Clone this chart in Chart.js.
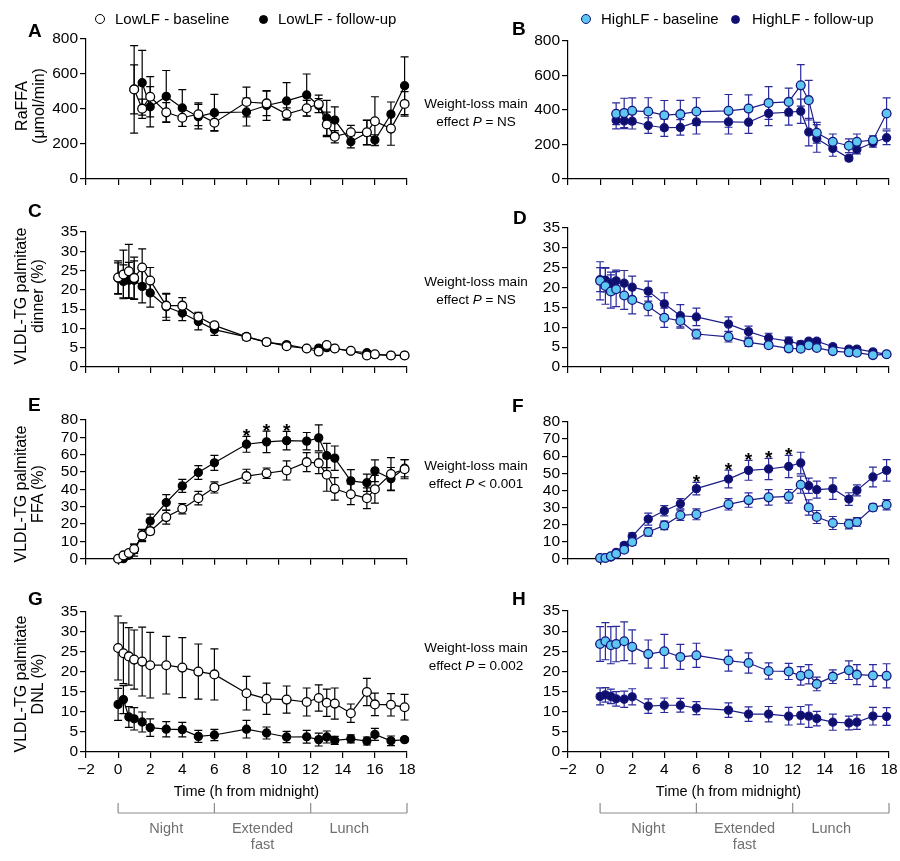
<!DOCTYPE html>
<html>
<head>
<meta charset="utf-8">
<script src="https://cdn.jsdelivr.net/npm/chart.js@4.4.1/dist/chart.umd.min.js"></script>
<style>
    body { margin: 0; background: #fff; width: 900px; height: 861px; position: relative; overflow: hidden;
           font-family: "Liberation Sans", Arial, sans-serif; color: #000; }
    canvas { position: absolute; }
    .txt { position: absolute; white-space: nowrap; }
    .letter { font-weight: bold; font-size: 19px; }
    .ytitle { font-size: 16px; line-height: 17px; text-align: center; transform: translate(-50%, -50%) rotate(-90deg); }
    .effect { font-size: 13.5px; line-height: 18px; text-align: center; transform: translateX(-50%); }
    .legend { font-size: 15px; }
    .dot { position: absolute; border-radius: 50%; box-sizing: border-box; }
</style>
</head>
<body>
<script>
// time points (h from midnight)
const timesAB = [1, 1.5, 2, 3, 4, 5, 6, 8, 9.25, 10.5, 11.75, 12.5, 13, 13.5, 14.5, 15.5, 16, 17, 17.85];
const timesCH = [0, 0.33, 0.67, 1, 1.5, 2, 3, 4, 5, 6, 8, 9.25, 10.5, 11.75, 12.5, 13, 13.5, 14.5, 15.5, 16, 17, 17.85];

const xTickValues = [-2, 0, 2, 4, 6, 8, 10, 12, 14, 16, 18];
const raTicks = [0, 200, 400, 600, 800];
const pct35Ticks = [0, 5, 10, 15, 20, 25, 30, 35];
const pct80Ticks = [0, 10, 20, 30, 40, 50, 60, 70, 80];

const lowLabels = ['LowLF - baseline', 'LowLF - follow-up'];
const highLabels = ['HighLF - baseline', 'HighLF - follow-up'];
const effectP = ['= NS', '= NS', '< 0.001', '= 0.002'];

// A: RaFFA, LowLF
const lowRaBase = [512, 402, 470, 381, 350, 370, 322, 440, 432, 371, 404, 429, 312, 242, 267, 267, 330, 288, 429];
const lowRaBaseErr = [250, 55, 115, 55, 50, 65, 45, 85, 70, 35, 45, 50, 70, 35, 40, 70, 140, 95, 70];
const lowRaFollow = [512, 550, 413, 472, 406, 356, 379, 383, 420, 446, 480, 420, 349, 337, 213, 265, 223, 370, 533];
const lowRaFollowErr = [140, 185, 115, 148, 105, 70, 105, 80, 85, 105, 120, 40, 100, 75, 35, 70, 30, 70, 165];

// B: RaFFA, HighLF
const highRaBase = [378, 383, 395, 391, 370, 376, 391, 395, 408, 441, 447, 543, 457, 268, 216, 193, 216, 225, 380];
const highRaBaseErr = [63, 85, 75, 80, 85, 80, 80, 95, 80, 95, 80, 120, 115, 60, 45, 40, 45, 25, 90];
const highRaFollow = [341, 337, 335, 310, 297, 299, 331, 331, 329, 380, 387, 393, 272, 235, 177, 121, 171, 210, 239];
const highRaFollowErr = [50, 45, 45, 45, 50, 45, 70, 70, 65, 70, 75, 70, 80, 80, 45, 15, 25, 25, 40];

// C: dinner palmitate, LowLF
const lowDinBase = [23.2, 24.0, 24.8, 23.1, 25.8, 22.4, 15.9, 15.9, 13.0, 10.8, 7.8, 6.5, 5.4, 4.8, 4.0, 5.7, 4.8, 4.2, 3.0, 3.3, 3.0, 3.0];
const lowDinBaseErr = [4.3, 6.3, 7.0, 5.4, 4.8, 3.4, 3.0, 2.1, 1.2, 0.8, 0.8, 0.7, 0.6, 0.5, 0.5, 0.6, 0.5, 0.5, 0.4, 0.4, 0.4, 0.4];
const lowDinFollow = [23.0, 22.2, 22.5, 22.5, 20.9, 19.2, 15.6, 14.0, 11.8, 9.7, 7.8, 6.4, 5.8, 4.8, 4.9, 5.0, 4.8, 4.1, 3.7, 3.2, 3.0, 3.0];
const lowDinFollowErr = [4.0, 4.3, 4.6, 5.0, 4.3, 3.7, 3.5, 2.0, 2.2, 1.5, 0.8, 0.7, 0.6, 0.5, 0.5, 0.5, 0.5, 0.5, 0.4, 0.4, 0.4, 0.4];

// D: dinner palmitate, HighLF
const highDinBase = [21.7, 20.4, 19.0, 19.6, 18.0, 16.9, 15.3, 12.4, 11.6, 8.3, 7.6, 6.2, 5.5, 4.7, 4.6, 5.5, 4.8, 4.0, 3.7, 3.6, 3.0, 3.2];
const highDinBaseErr = [4.8, 4.6, 4.2, 4.4, 3.5, 3.5, 2.4, 2.4, 1.8, 1.2, 1.3, 1.0, 0.7, 0.7, 0.7, 0.7, 0.6, 0.6, 0.5, 0.5, 0.5, 0.5];
const highDinFollow = [22.0, 21.9, 21.1, 21.7, 21.1, 20.1, 19.1, 15.9, 12.9, 12.6, 10.8, 8.9, 7.3, 6.5, 5.7, 6.5, 6.5, 5.1, 4.5, 4.5, 3.8, 3.2];
const highDinFollowErr = [3.0, 3.0, 2.8, 2.7, 3.2, 2.8, 2.5, 2.8, 2.8, 2.2, 1.8, 1.4, 1.2, 1.0, 0.8, 0.6, 0.6, 0.6, 0.5, 0.5, 0.5, 0.5];

// E: FFA palmitate, LowLF
const lowFfaBase = [0, 1.9, 3.3, 5.6, 13.4, 15.9, 24.0, 28.8, 34.9, 41.1, 47.6, 49.3, 50.9, 55.7, 55.1, 48.4, 40.3, 37.2, 34.9, 40.1, 48.8, 51.6];
const lowFfaBaseErr = [0.5, 0.8, 1.2, 2.5, 3.5, 2.0, 4.0, 3.0, 3.9, 3.2, 4.0, 3.0, 5.5, 5.5, 6.0, 9.5, 6.5, 6.0, 6.0, 8.0, 9.5, 5.5];
const lowFfaFollow = [0, 0, 2.0, 5.0, 13.6, 21.7, 32.4, 42.0, 49.7, 55.3, 66.0, 67.4, 68.1, 67.8, 69.7, 59.5, 58.0, 44.9, 43.8, 50.7, 46.1, 52.2];
const lowFfaFollowErr = [0.5, 0.5, 1.0, 3.5, 3.0, 4.0, 4.5, 3.8, 4.0, 4.3, 4.6, 6.2, 5.3, 5.0, 7.5, 7.0, 7.0, 6.5, 5.0, 6.3, 6.5, 5.0];
const lowFfaStars = [8, 9.25, 10.5];

// F: FFA palmitate, HighLF
const highFfaBase = [0.4, 0.4, 1.4, 2.9, 5.3, 9.8, 15.6, 19.5, 25.4, 26.0, 31.8, 34.3, 35.9, 36.5, 43.3, 30.0, 24.4, 20.9, 20.3, 21.5, 30.0, 31.6];
const highFfaBaseErr = [0.3, 0.3, 0.5, 1.0, 1.5, 2.0, 2.4, 2.5, 3.0, 3.2, 3.3, 4.2, 4.5, 4.0, 5.0, 4.5, 3.8, 3.8, 2.8, 2.5, 2.0, 3.0];
const highFfaFollow = [0.3, 0.5, 1.0, 3.7, 7.8, 13.1, 23.2, 28.1, 32.2, 41.0, 46.6, 51.7, 52.5, 54.0, 56.0, 42.7, 40.4, 41.0, 34.9, 40.0, 47.8, 51.7];
const highFfaFollowErr = [0.3, 0.3, 0.5, 1.0, 1.5, 2.0, 3.5, 3.0, 3.0, 3.7, 5.2, 5.8, 6.2, 6.5, 6.3, 4.5, 5.0, 6.3, 3.7, 3.2, 5.8, 6.3];
const highFfaStars = [6, 8, 9.25, 10.5, 11.75];

// G: DNL palmitate, LowLF
const lowDnlBase = [26.0, 24.7, 23.9, 23.1, 22.6, 21.7, 21.7, 21.1, 20.1, 19.4, 14.7, 13.3, 13.1, 12.5, 13.5, 12.3, 12.1, 9.7, 15.0, 11.9, 11.8, 11.2];
const lowDnlBaseErr = [8.0, 7.6, 7.2, 7.4, 8.6, 8.2, 7.2, 7.5, 6.9, 6.4, 4.2, 3.9, 3.4, 3.5, 3.3, 3.4, 3.9, 2.3, 3.4, 2.8, 2.8, 3.2];
const lowDnlFollow = [11.9, 13.1, 8.75, 8.3, 7.5, 6.1, 5.7, 5.6, 3.9, 4.25, 5.7, 4.75, 3.75, 3.8, 3.1, 3.75, 2.9, 3.3, 2.75, 4.4, 2.8, 3.1];
const lowDnlFollowErr = [4.0, 3.5, 2.6, 2.8, 2.5, 2.2, 1.9, 1.8, 1.5, 1.4, 2.2, 1.5, 1.4, 1.6, 1.6, 1.5, 1.0, 1.0, 1.0, 1.5, 1.2, 0.5];

// H: DNL palmitate, HighLF
const highDnlBase = [26.8, 27.5, 26.5, 26.8, 27.5, 26.1, 24.3, 25.0, 23.6, 24.0, 22.7, 22.1, 20.1, 20.0, 18.9, 19.3, 16.9, 18.7, 20.3, 19.2, 19.0, 18.9];
const highDnlBaseErr = [4.3, 4.6, 4.6, 4.4, 4.8, 4.2, 3.5, 4.2, 3.1, 3.0, 2.6, 2.5, 2.0, 2.0, 2.3, 2.4, 1.7, 1.7, 2.3, 2.5, 2.7, 3.0];
const highDnlFollow = [13.8, 14.2, 13.8, 13.2, 13.1, 13.7, 11.4, 11.6, 11.6, 10.9, 10.4, 9.4, 9.4, 8.9, 9.1, 8.9, 8.3, 7.4, 7.2, 7.4, 8.9, 8.8];
const highDnlFollowErr = [2.1, 1.8, 1.8, 1.8, 2.0, 2.0, 1.8, 1.8, 1.7, 1.6, 1.8, 1.8, 1.9, 2.2, 2.2, 2.8, 1.8, 2.0, 1.7, 1.8, 2.2, 2.2];

// bottom phase bracket
const phaseBounds = [0, 6, 12, 18];
const phaseNames = [['Night'], ['Extended', 'fast'], ['Lunch']];
const phaseCenters = [3, 9, 14.4];

const FONT = '"Liberation Sans", Arial, sans-serif';
Chart.defaults.font.family = FONT;
Chart.defaults.font.size = 15;
Chart.defaults.color = '#000';

const STYLES = {
    low: { line: '#000', err: '#000', baseFill: '#fff', followFill: '#000', edge: '#000' },
    high: { line: '#1c1c8a', err: '#2a2a9c', baseFill: '#5ec7f0', followFill: '#0e0e6c', edge: '#16167e' }
};

const errorBars = {
    id: 'errorBars',
    beforeDatasetsDraw(chart) {
        const ctx = chart.ctx;
        const xs = chart.scales.x, ys = chart.scales.y;
        chart.data.datasets.forEach(ds => {
            if (!ds.errors) return;
            ctx.save();
            ctx.strokeStyle = ds.errorColor;
            ctx.lineWidth = 1.2;
            ds.data.forEach((p, i) => {
                const e = ds.errors[i];
                const px = xs.getPixelForValue(p.x);
                const top = ys.getPixelForValue(p.y + e);
                const bot = ys.getPixelForValue(Math.max(p.y - e, 0));
                ctx.beginPath();
                ctx.moveTo(px, top); ctx.lineTo(px, bot);
                ctx.moveTo(px - 4, top); ctx.lineTo(px + 4, top);
                ctx.moveTo(px - 4, bot); ctx.lineTo(px + 4, bot);
                ctx.stroke();
            });
            ctx.restore();
        });
    }
};

const starMarks = {
    id: 'starMarks',
    afterDatasetsDraw(chart) {
        const ctx = chart.ctx;
        const xs = chart.scales.x, ys = chart.scales.y;
        chart.data.datasets.forEach(ds => {
            if (!ds.stars) return;
            ctx.save();
            ctx.fillStyle = '#000';
            ctx.font = 'bold 19px ' + FONT;
            ctx.textAlign = 'center';
            ctx.textBaseline = 'alphabetic';
            ds.stars.forEach(t => {
                const i = ds.data.findIndex(p => p.x === t);
                if (i < 0) return;
                const p = ds.data[i];
                ctx.fillText('*', xs.getPixelForValue(t), ys.getPixelForValue(p.y + ds.errors[i]) + 6);
            });
            ctx.restore();
        });
    }
};

const phaseBracket = {
    id: 'phaseBracket',
    afterDraw(chart) {
        if (!chart.options.showPhases) return;
        const ctx = chart.ctx;
        const xs = chart.scales.x;
        const b = chart.chartArea.bottom;
        const area = chart.chartArea;
        ctx.save();
        ctx.fillStyle = '#000';
        ctx.font = '14.5px ' + FONT;
        ctx.textAlign = 'center';
        ctx.textBaseline = 'middle';
        ctx.fillText('Time (h from midnight)', (area.left + area.right) / 2, b + 40);

        ctx.strokeStyle = '#8c8c8c';
        ctx.lineWidth = 1.2;
        const x0 = xs.getPixelForValue(phaseBounds[0]);
        const x1 = xs.getPixelForValue(phaseBounds[phaseBounds.length - 1]);
        ctx.beginPath();
        ctx.moveTo(x0, b + 61); ctx.lineTo(x1, b + 61);
        phaseBounds.forEach(v => {
            const px = xs.getPixelForValue(v);
            ctx.moveTo(px, b + 51); ctx.lineTo(px, b + 61);
        });
        ctx.stroke();

        ctx.fillStyle = '#707070';
        ctx.font = '14.5px ' + FONT;
        phaseNames.forEach((lines, k) => {
            const px = xs.getPixelForValue(phaseCenters[k]);
            lines.forEach((s, j) => ctx.fillText(s, px, b + 77 + j * 16));
        });
        ctx.restore();
    }
};

function fmtTick(v) {
    return v < 0 ? '\u2212' + Math.abs(v) : String(v);
}

function toPoints(times, vals) {
    return times.map((t, i) => ({ x: t, y: vals[i] }));
}

function makePanel(cfg) {
    const st = STYLES[cfg.style];
    const canvas = document.createElement('canvas');
    canvas.width = cfg.w;
    canvas.height = cfg.h;
    canvas.style.left = cfg.left + 'px';
    canvas.style.top = cfg.top + 'px';
    document.body.appendChild(canvas);

    const common = {
        showLine: true,
        borderColor: st.line,
        borderWidth: 1.2,
        pointBorderColor: st.edge,
        pointBorderWidth: 1.3,
        errorColor: st.err,
        clip: false,
        tension: 0
    };

    new Chart(canvas, {
        type: 'scatter',
        data: {
            datasets: [
                Object.assign({}, common, {
                    data: toPoints(cfg.times, cfg.base),
                    errors: cfg.baseErr,
                    pointBackgroundColor: st.baseFill,
                    pointRadius: 4.4
                }),
                Object.assign({}, common, {
                    data: toPoints(cfg.times, cfg.follow),
                    errors: cfg.followErr,
                    stars: cfg.stars || null,
                    pointBackgroundColor: st.followFill,
                    pointRadius: 4
                })
            ]
        },
        options: {
            responsive: false,
            animation: false,
            showPhases: !!cfg.showX,
            layout: { padding: { top: cfg.padTop, right: cfg.padRight, bottom: cfg.padBottom, left: 0 } },
            plugins: { legend: { display: false }, tooltip: { enabled: false } },
            scales: {
                x: {
                    type: 'linear',
                    min: -2,
                    max: 18,
                    afterBuildTicks: s => { s.ticks = xTickValues.map(v => ({ value: v })); },
                    afterFit: s => { s.height = cfg.xH; },
                    grid: { drawOnChartArea: false, drawTicks: true, tickLength: 6, color: '#000', lineWidth: 1.2 },
                    border: { display: true, color: '#000', width: 1.2 },
                    ticks: { display: !!cfg.showX, padding: 2, maxRotation: 0, autoSkip: false,
                             font: { size: 15.5 }, callback: v => fmtTick(v) }
                },
                y: {
                    min: 0,
                    max: cfg.yTicks[cfg.yTicks.length - 1],
                    afterBuildTicks: s => { s.ticks = cfg.yTicks.map(v => ({ value: v })); },
                    afterFit: s => { s.width = cfg.yW; },
                    grid: { drawOnChartArea: false, drawTicks: true, tickLength: 6, color: '#000', lineWidth: 1.2 },
                    border: { display: true, color: '#000', width: 1.2 },
                    ticks: { padding: 2, autoSkip: false, font: { size: 15.5 } }
                }
            }
        },
        plugins: [errorBars, starMarks, phaseBracket]
    });
}

function addText(cls, html, left, top, extra) {
    const d = document.createElement('div');
    d.className = 'txt ' + cls;
    d.innerHTML = html;
    d.style.left = left + 'px';
    d.style.top = top + 'px';
    if (extra) Object.assign(d.style, extra);
    document.body.appendChild(d);
    return d;
}

function addDot(cx, cy, r, fill, edge) {
    const d = document.createElement('div');
    d.className = 'dot';
    d.style.left = (cx - r) + 'px';
    d.style.top = (cy - r) + 'px';
    d.style.width = (2 * r) + 'px';
    d.style.height = (2 * r) + 'px';
    d.style.background = fill;
    d.style.border = '1.3px solid ' + edge;
    document.body.appendChild(d);
}

// left column: chart area x 86..407, right column: 568..889
const L = { left: 0, w: 420, yW: 86, padRight: 13, style: 'low' };
const R = { left: 480, w: 420, yW: 88, padRight: 11, style: 'high' };

makePanel(Object.assign({}, L, { top: 0, h: 200, padTop: 39, xH: 21, padBottom: 0, yTicks: raTicks,
    times: timesAB, base: lowRaBase, baseErr: lowRaBaseErr, follow: lowRaFollow, followErr: lowRaFollowErr }));
makePanel(Object.assign({}, R, { top: 0, h: 200, padTop: 41, xH: 21, padBottom: 0, yTicks: raTicks,
    times: timesAB, base: highRaBase, baseErr: highRaBaseErr, follow: highRaFollow, followErr: highRaFollowErr }));
makePanel(Object.assign({}, L, { top: 195, h: 185, padTop: 37, xH: 13, padBottom: 0, yTicks: pct35Ticks,
    times: timesCH, base: lowDinBase, baseErr: lowDinBaseErr, follow: lowDinFollow, followErr: lowDinFollowErr }));
makePanel(Object.assign({}, R, { top: 195, h: 185, padTop: 33, xH: 13, padBottom: 0, yTicks: pct35Ticks,
    times: timesCH, base: highDinBase, baseErr: highDinBaseErr, follow: highDinFollow, followErr: highDinFollowErr }));
makePanel(Object.assign({}, L, { top: 380, h: 190, padTop: 40, xH: 11, padBottom: 0, yTicks: pct80Ticks,
    times: timesCH, base: lowFfaBase, baseErr: lowFfaBaseErr, follow: lowFfaFollow, followErr: lowFfaFollowErr, stars: lowFfaStars }));
makePanel(Object.assign({}, R, { top: 380, h: 190, padTop: 42, xH: 11, padBottom: 0, yTicks: pct80Ticks,
    times: timesCH, base: highFfaBase, baseErr: highFfaBaseErr, follow: highFfaFollow, followErr: highFfaFollowErr, stars: highFfaStars }));
makePanel(Object.assign({}, L, { top: 570, h: 291, padTop: 42, xH: 28, padBottom: 81, yTicks: pct35Ticks, showX: true,
    times: timesCH, base: lowDnlBase, baseErr: lowDnlBaseErr, follow: lowDnlFollow, followErr: lowDnlFollowErr }));
makePanel(Object.assign({}, R, { top: 570, h: 291, padTop: 41, xH: 28, padBottom: 81, yTicks: pct35Ticks, showX: true,
    times: timesCH, base: highDnlBase, baseErr: highDnlBaseErr, follow: highDnlFollow, followErr: highDnlFollowErr }));

// panel letters
[['A', 28, 20], ['B', 512, 18], ['C', 28, 200], ['D', 513, 207], ['E', 28, 394], ['F', 512, 395], ['G', 28, 588], ['H', 512, 588]]
    .forEach(([s, x, y]) => addText('letter', s, x, y));

// y titles
addText('ytitle', 'RaFFA<br>(\u03bcmol/min)', 30, 106);
addText('ytitle', 'VLDL-TG palmitate<br>dinner (%)', 29, 296);
addText('ytitle', 'VLDL-TG palmitate<br>FFA (%)', 29, 494);
addText('ytitle', 'VLDL-TG palmitate<br>DNL (%)', 29, 684);

// effect texts between columns
[95, 273, 457, 639].forEach((y, k) => {
    addText('effect', 'Weight-loss main<br>effect <i>P</i> ' + effectP[k], 476, y);
});

// legends
addDot(100, 19, 5, '#fff', '#000');
addText('legend', lowLabels[0], 115, 10);
addDot(263, 19, 4.5, '#000', '#000');
addText('legend', lowLabels[1], 278, 10);
addDot(586, 19, 5, STYLES.high.baseFill, STYLES.high.edge);
addText('legend', highLabels[0], 601, 10);
addDot(735, 19, 4.5, STYLES.high.followFill, STYLES.high.edge);
addText('legend', highLabels[1], 752, 10);
</script>
</body>
</html>
